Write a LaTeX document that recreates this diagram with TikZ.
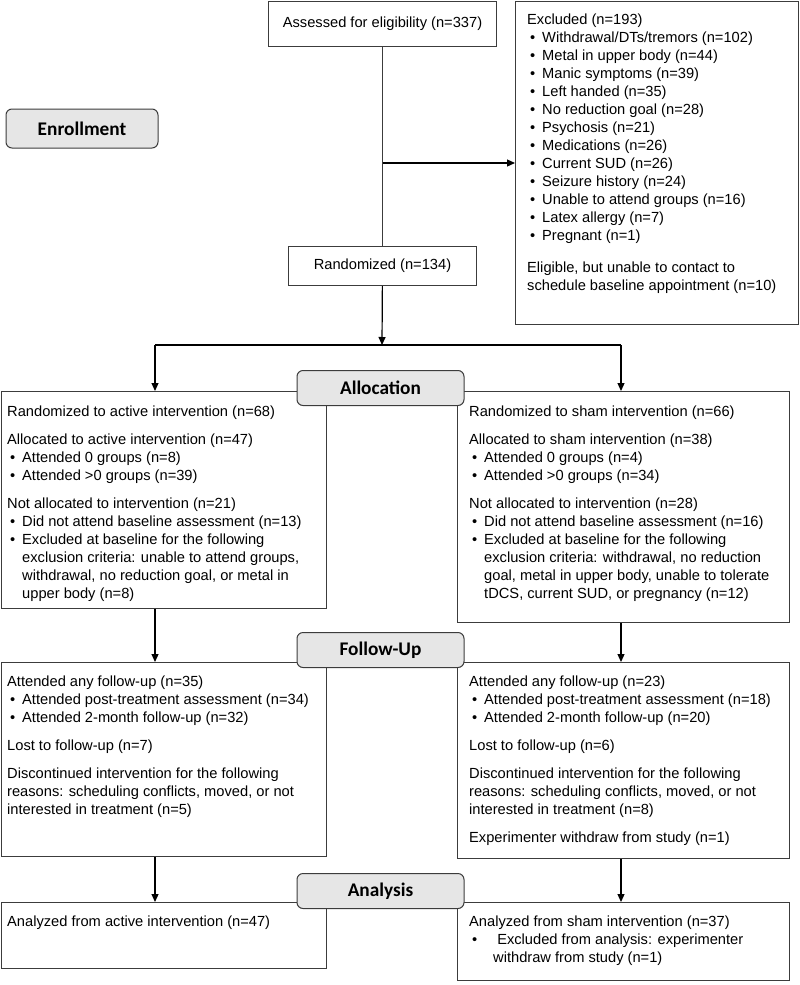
\documentclass[tikz,border=0pt]{standalone}
\usepackage{fontspec}
\setmainfont{Liberation Sans}
\newfontfamily\carlito{Carlito}
\usetikzlibrary{arrows.meta,positioning}
\definecolor{StageGray}{HTML}{E6E6E6}
\definecolor{LineGray}{HTML}{3C3C3C}
\newcommand{\bodysize}{\fontsize{14.67}{18}\selectfont}
\newcommand{\bul}[1][15pt]{\makebox[#1][l]{\hspace{3pt}\textbullet}}
\newcommand{\ind}{\makebox[15pt]{}}
\tikzset{
  frame/.style={draw=LineGray, line width=1pt, inner sep=0pt, anchor=north west},
  body/.style={anchor=north west, align=left, inner sep=0pt, font=\bodysize},
  stage/.style={draw=LineGray, fill=StageGray, rounded corners=6pt, line width=1pt,
    minimum width=167pt, minimum height=35pt, inner sep=0pt,
    font=\carlito\bfseries\fontsize{19.3}{22}\selectfont},
  arr/.style={-{Triangle[length=8pt,width=7pt]}, line width=1.2pt},
}
\begin{document}
\begin{tikzpicture}[x=1pt,y=-1pt]
    \useasboundingbox (0,0) rectangle (800,985);
    \node[frame, minimum width=228, minimum height=45, font=\bodysize] (assess) at (268,1) {Assessed for eligibility (n=337)};
    \node[frame, minimum width=188, minimum height=39, font=\bodysize] (rand) at (288,246) {Randomized (n=134)};
    \node[frame, minimum width=283, minimum height=323] (excl) at (515,1) {};
    \node[body] (exclText) at (527,14) {Excluded (n=193)\\
      \bul Withdrawal/DTs/tremors (n=102)\\
      \bul Metal in upper body (n=44)\\
      \bul Manic symptoms (n=39)\\
      \bul Left handed (n=35)\\
      \bul No reduction goal (n=28)\\
      \bul Psychosis (n=21)\\
      \bul Medications (n=26)\\
      \bul Current SUD (n=26)\\
      \bul Seizure history (n=24)\\
      \bul Unable to attend groups (n=16)\\
      \bul Latex allergy (n=7)\\
      \bul Pregnant (n=1)\\[14pt]
      Eligible, but unable to contact to\\
      schedule baseline appointment (n=10)};
    \node[frame, minimum width=325, minimum height=217] (allocL) at (0.5,391) {};
    \node[body] (allocLText) at (7,406) {Randomized to active intervention (n=68)\\[10pt]
      Allocated to active intervention (n=47)\\
      \bul Attended 0 groups (n=8)\\
      \bul Attended >0 groups (n=39)\\[10pt]
      Not allocated to intervention (n=21)\\
      \bul Did not attend baseline assessment (n=13)\\
      \bul Excluded at baseline for the following\\
      \ind exclusion criteria: unable to attend groups,\\
      \ind withdrawal, no reduction goal, or metal in\\
      \ind upper body (n=8)};
    \node[frame, minimum width=332, minimum height=231] (allocR) at (457,391) {};
    \node[body] (allocRText) at (469,406) {Randomized to sham intervention (n=66)\\[10pt]
      Allocated to sham intervention (n=38)\\
      \bul Attended 0 groups (n=4)\\
      \bul Attended >0 groups (n=34)\\[10pt]
      Not allocated to intervention (n=28)\\
      \bul Did not attend baseline assessment (n=16)\\
      \bul Excluded at baseline for the following\\
      \ind exclusion criteria: withdrawal, no reduction\\
      \ind goal, metal in upper body, unable to tolerate\\
      \ind tDCS, current SUD, or pregnancy (n=12)};
    \node[frame, minimum width=325, minimum height=194] (followL) at (0.5,662) {};
    \node[body] (followLText) at (7,676) {Attended any follow-up (n=35)\\
      \bul Attended post-treatment assessment (n=34)\\
      \bul Attended 2-month follow-up (n=32)\\[10pt]
      Lost to follow-up (n=7)\\[10pt]
      Discontinued intervention for the following\\
      reasons: scheduling conflicts, moved, or not\\
      interested in treatment (n=5)};
    \node[frame, minimum width=332, minimum height=196] (followR) at (457,662) {};
    \node[body] (followRText) at (469,676) {Attended any follow-up (n=23)\\
      \bul Attended post-treatment assessment (n=18)\\
      \bul Attended 2-month follow-up (n=20)\\[10pt]
      Lost to follow-up (n=6)\\[10pt]
      Discontinued intervention for the following\\
      reasons: scheduling conflicts, moved, or not\\
      interested in treatment (n=8)\\[10pt]
      Experimenter withdraw from study (n=1)};
    \node[frame, minimum width=325, minimum height=66] (analL) at (0.5,902) {};
    \node[body] (analLText) at (7,916) {Analyzed from active intervention (n=47)};
    \node[frame, minimum width=332, minimum height=78] (analR) at (457,902) {};
    \node[body] (analRText) at (469,916) {Analyzed from sham intervention (n=37)\\
      \bul[24pt] Excluded from analysis: experimenter\\
      \makebox[24pt]{}withdraw from study (n=1)};
    \coordinate (colL) at (155,0);
    \coordinate (colR) at (621,0);
    \coordinate (split) at (382,345);
    \draw[LineGray, line width=1.2pt] (assess) -- (rand);
    \draw[arr] (assess.south |- excl.west) -- (excl.west);
    \draw[arr] (rand) -- (split);
    \draw[line width=1.2pt] (split -| colL) -- (split -| colR);
    \draw[arr] (split -| colL) -- (colL |- allocL.north);
    \draw[arr] (split -| colR) -- (colR |- allocR.north);
    \draw[arr] (colL |- allocL.south) -- (colL |- followL.north);
    \draw[arr] (colR |- allocR.south) -- (colR |- followR.north);
    \draw[arr] (colL |- followL.south) -- (colL |- analL.north);
    \draw[arr] (colR |- followR.south) -- (colR |- analR.north);
    \node[stage, minimum width=152, minimum height=39] (enroll) at (82,128.5) {Enrollment};
    \foreach \y/\name/\txt in {388/alloc/Allocation,650/follow/Follow-Up,891/analysis/Analysis} {
     \node[stage] (\name) at (380.5,\y) {\txt};
    }
\end{tikzpicture}
\end{document}
